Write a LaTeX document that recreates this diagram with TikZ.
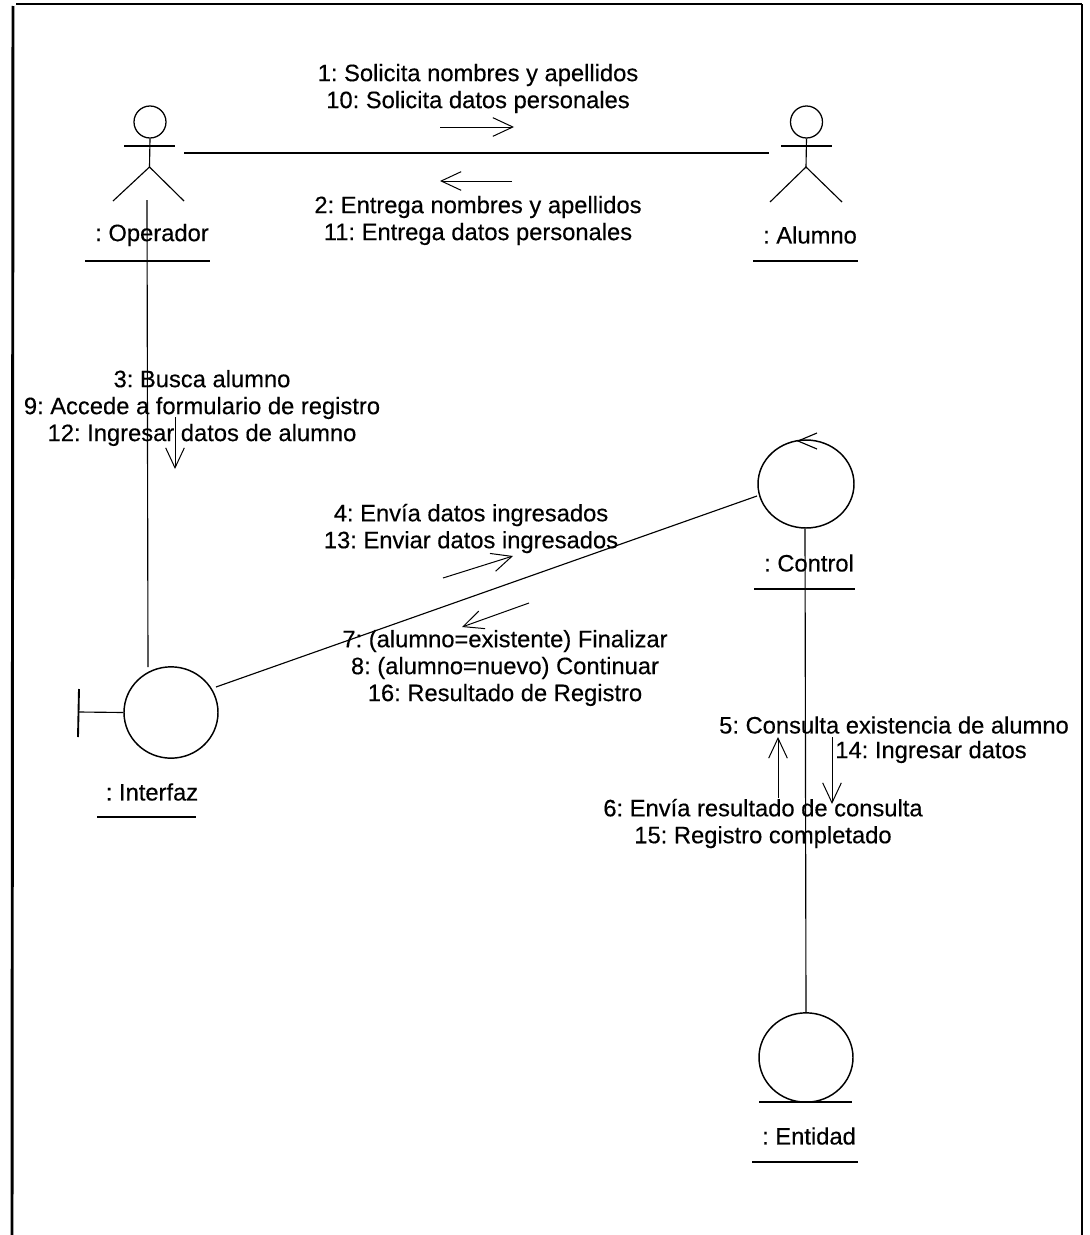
\documentclass[tikz,border=0pt]{standalone}
\usepackage{fontspec}
\setmainfont[FakeBold=0.35]{Liberation Sans}
\frenchspacing
\usetikzlibrary{arrows.meta,shapes.geometric}
\tikzset{
  x=0.75pt,y=-0.75pt,
  ln/.style={draw=black,line width=0.85pt},
  msg/.style={draw=black,line width=0.75pt,-{Straight Barb[length=15pt,width=14pt,line width=0.75pt]}},
  txt/.style={font=\fontsize{17.8pt}{20.2pt}\selectfont,align=center,inner sep=0pt,text=black},
  leftedge/.style={draw=black,line width=2.2pt},
  edge/.style={draw=black,line width=1.4pt},
  under/.style={draw=black,line width=0.95pt},
  circ/.style={ellipse,draw=black,line width=1.1pt,inner sep=0pt},
  head/.style={circle,draw=black,line width=0.95pt,minimum size=24pt,inner sep=0pt}
}
\begin{document}
\begin{tikzpicture}
\useasboundingbox (0,0) rectangle (1089,1235);
\draw[leftedge] (12,1235) -- (13,6);
\draw[edge] (16,4) -- (1082,4);
\draw[leftedge] (1082,4) -- (1082,1235);
% actor Operador
\node[head] (opH) at (150,122) {};
\coordinate (opN) at (149.5,167);
\draw[ln] (opH.south) -- (opN);
\draw[ln] (124,146) -- (175,146);
\draw[ln] (113,201) -- (opN) -- (184,201);
\node[txt] (opL) at (152,235) {: Operador};
\draw[under] (85,261) -- (210,261);
% actor Alumno
\node[head] (alH) at (806.5,122) {};
\coordinate (alN) at (806,167);
\draw[ln] (alH.south) -- (alN);
\draw[ln] (781,146) -- (832,146);
\draw[ln] (770,202) -- (alN) -- (842,202);
\node[txt] (alL) at (810,235) {: Alumno};
\draw[under] (753,261) -- (858,261);
% association
\coordinate (opE) at (184,153);
\coordinate (alE) at (769,153);
\draw[ln] (opE) -- (alE);
% Interfaz
\node[circ,minimum width=70.5pt,minimum height=68.5pt] (int) at (171,712.5) {};
\coordinate (opB) at (147,200);
\coordinate (intT) at (148,667);
\draw[ln] (opB) -- (intT);
\coordinate (bnd) at (79,712);
\draw[ln] (int.west) -- (bnd);
\draw[edge] (79,689) -- (78,737);
\node[txt] (intL) at (152,792) {: Interfaz};
\draw[under] (97,817) -- (196,817);
% Control
\node[circ,minimum width=72pt,minimum height=66pt] (ctl) at (806,484) {};
\draw[ln] (817,433) -- (798,441) -- (817,449);
\node[txt] (ctlL) at (809,563) {: Control};
\draw[under] (754,589) -- (855,589);
\coordinate (intR) at (216,687);
\coordinate (ctlW) at (757,496);
\draw[ln] (intR) -- (ctlW);
% Entidad
\node[circ,minimum width=70.5pt,minimum height=67pt] (ent) at (806,1057.5) {};
\draw[under] (759,1102) -- (852,1102);
\node[txt] (entL) at (809,1136) {: Entidad};
\draw[under] (752,1162) -- (858,1162);
\draw[ln] (ctl.south) ++(-1,0) -- (ent.north);
% labels
\node[txt] at (478,88.5) {1: Solicita nombres y apellidos\\10: Solicita datos personales};
\node[txt] at (478,220.5) {2: Entrega nombres y apellidos\\11: Entrega datos personales};
\node[txt] at (202,408) {3: Busca alumno\\9: Accede a formulario de registro\\12: Ingresar datos de alumno};
\node[txt] at (471,528.5) {4: Envía datos ingresados\\13: Enviar datos ingresados};
\node[txt] at (505,668) {7: (alumno=existente) Finalizar\\8: (alumno=nuevo) Continuar\\16: Resultado de Registro};
\node[txt] at (894,725) {5: Consulta existencia de alumno};
\node[txt] at (931,752) {14: Ingresar datos};
\node[txt] at (763,823.5) {6: Envía resultado de consulta\\15: Registro completado};
% messages
\coordinate (m1a) at (440,127); \coordinate (m1b) at (514,127);
\coordinate (m2a) at (512,181); \coordinate (m2b) at (440,181);
\coordinate (m3a) at (175,417); \coordinate (m3b) at (175,469);
\coordinate (m4a) at (443,578); \coordinate (m4b) at (513,556);
\coordinate (m7a) at (529,603); \coordinate (m7b) at (462,627);
\coordinate (m5a) at (778,798); \coordinate (m5b) at (778,737);
\coordinate (m14a) at (832,737); \coordinate (m14b) at (832,804);
\draw[msg] (m1a) -- (m1b);
\draw[msg] (m2a) -- (m2b);
\draw[msg] (m3a) -- (m3b);
\draw[msg] (m4a) -- (m4b);
\draw[msg] (m7a) -- (m7b);
\draw[msg] (m5a) -- (m5b);
\draw[msg] (m14a) -- (m14b);
\end{tikzpicture}
\end{document}
